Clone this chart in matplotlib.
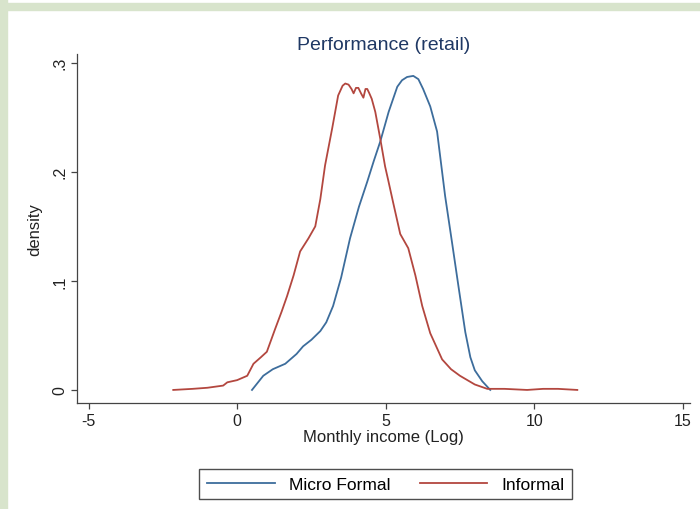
import matplotlib.pyplot as plt
from matplotlib.patches import Rectangle

# Kernel density curves
formal_x = [0.5, 0.88, 1.2, 1.62, 2.0, 2.22, 2.5, 2.8, 3.0, 3.23, 3.5, 3.8, 4.1,
            4.38, 4.6, 4.82, 5.1, 5.39, 5.55, 5.72, 5.93, 6.1, 6.26, 6.5, 6.73,
            7.0, 7.24, 7.45, 7.68, 7.85, 8.0, 8.25, 8.52]
formal_y = [0.0, 0.013, 0.019, 0.024, 0.033, 0.040, 0.046, 0.054, 0.062, 0.077,
            0.103, 0.139, 0.168, 0.191, 0.210, 0.228, 0.255, 0.278, 0.284, 0.287,
            0.288, 0.285, 0.276, 0.260, 0.237, 0.178, 0.134, 0.095, 0.053, 0.030,
            0.018, 0.008, 0.0]

informal_x = [-2.15, -1.5, -1.0, -0.47, -0.33, 0.0, 0.34, 0.55, 0.8, 1.0, 1.28,
              1.5, 1.68, 1.9, 2.12, 2.4, 2.63, 2.8, 2.96, 3.2, 3.4, 3.55, 3.64,
              3.75, 3.85, 3.92, 4.0, 4.08, 4.17, 4.25, 4.32, 4.38, 4.45, 4.53,
              4.65, 4.82, 4.98, 5.08, 5.25, 5.49, 5.76, 6.0, 6.23, 6.5, 6.9, 7.2,
              7.5, 8.0, 8.42, 9.0, 9.76, 10.3, 10.8, 11.45]
informal_y = [0.0, 0.001, 0.002, 0.004, 0.007, 0.009, 0.013, 0.024, 0.030, 0.035,
              0.056, 0.072, 0.086, 0.105, 0.127, 0.139, 0.150, 0.175, 0.206, 0.240,
              0.270, 0.279, 0.281, 0.280, 0.276, 0.272, 0.277, 0.277, 0.272, 0.268,
              0.276, 0.276, 0.272, 0.267, 0.255, 0.230, 0.205, 0.193, 0.172, 0.143,
              0.130, 0.105, 0.077, 0.052, 0.028, 0.019, 0.013, 0.005, 0.001, 0.001,
              0.0, 0.001, 0.001, 0.0]

x_ticks = [-5, 0, 5, 10, 15]
y_ticks = [0, 0.1, 0.2, 0.3]
y_tick_labels = ["0", ".1", ".2", ".3"]

blue = "#3d6d9c"
red = "#b3473f"

plt.rcParams["font.family"] = ["Liberation Sans", "DejaVu Sans"]
plt.rcParams["axes.unicode_minus"] = False

fig = plt.figure(figsize=(7, 5.1), dpi=100)

# green frame on the left and top
fig.patches.append(Rectangle((0, 0), 7 / 700, 1, transform=fig.transFigure,
                             color="#d8e4cc", zorder=0))
fig.patches.append(Rectangle((0, 1 - 11 / 510), 1, 7 / 510, transform=fig.transFigure,
                             color="#d8e4cc", zorder=0))

ax = fig.add_axes([0.11, 0.208, 0.876, 0.684])

ax.plot(formal_x, formal_y, color=blue, linewidth=1.3, label="Micro Formal")
ax.plot(informal_x, informal_y, color=red, linewidth=1.3, label="Informal")

ax.set_xlim(-5.39, 15.25)
ax.set_ylim(-0.0119, 0.308)

ax.set_xticks(x_ticks)
ax.set_yticks(y_ticks)
ax.set_yticklabels(y_tick_labels)
for lbl in ax.get_yticklabels():
    lbl.set_rotation(90)
    lbl.set_va("center")

ax.tick_params(length=4, width=0.9, color="#444444", labelsize=11.5,
               labelcolor="#222222", pad=3)

for side in ["top", "right"]:
    ax.spines[side].set_visible(False)
for side in ["left", "bottom"]:
    ax.spines[side].set_color("#444444")
    ax.spines[side].set_linewidth(0.9)

ax.set_title("Performance (retail)", fontsize=14, color="#1f3864", pad=4)
ax.set_xlabel("Monthly income (Log)", fontsize=12, color="#222222", labelpad=1)
ax.set_ylabel("density", fontsize=12, color="#222222", labelpad=7)

leg = fig.legend(loc="center", bbox_to_anchor=(0.551, 0.049), ncol=2,
                 fontsize=12.5, frameon=True, fancybox=False, edgecolor="#222222",
                 handlelength=3.9, handletextpad=0.8, columnspacing=1.7,
                 borderpad=0.45)
leg.get_frame().set_linewidth(1.0)

fig.savefig("out.png", dpi=100)
